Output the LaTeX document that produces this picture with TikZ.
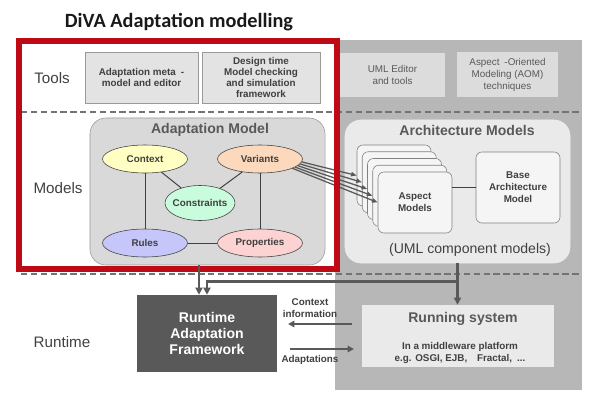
\documentclass[tikz,border=0pt]{standalone}
\usepackage{fontspec}
\setmainfont{Liberation Sans}
\newfontfamily\titlefont{Carlito}
\usetikzlibrary{shapes.geometric,arrows.meta}

\definecolor{divared}{HTML}{BE0A14}
\definecolor{backgray}{HTML}{B7B7B7}
\definecolor{dgray}{HTML}{595959}
\definecolor{tgray}{HTML}{404040}
\definecolor{boxgray}{HTML}{E3E3E3}
\definecolor{lightbox}{HTML}{DCDCDC}
\definecolor{modelfill}{HTML}{D9D9D9}
\definecolor{archfill}{HTML}{EAEAEA}
\definecolor{ctxfill}{HTML}{FFFFC4}
\definecolor{varfill}{HTML}{FCD9BC}
\definecolor{consfill}{HTML}{C9FBDD}
\definecolor{rulefill}{HTML}{C6C6FA}
\definecolor{propfill}{HTML}{FDD2D2}

\tikzset{
  rowlabel/.style={text=tgray, font=\fontsize{10.8}{13}\selectfont},
  toolbox/.style={draw=gray!80, fill=boxgray, align=center, text=tgray,
    font=\bfseries\fontsize{7}{8.5}\selectfont},
  othertool/.style={fill=lightbox, align=center, text=dgray,
    font=\fontsize{7}{8.5}\selectfont},
  modelarea/.style={rounded corners=0.4cm},
  areatitle/.style={text=dgray, font=\bfseries\fontsize{10}{12}\selectfont},
  concept/.style={ellipse, draw=tgray, inner sep=0pt, minimum width=2.125cm,
    minimum height=0.7cm, text=tgray, font=\bfseries\fontsize{7}{8.5}\selectfont},
  aspectbox/.style={draw=gray, fill=white!96!black, rounded corners=0.15cm,
    minimum width=1.85cm, minimum height=1.525cm},
  smalltext/.style={text=tgray, align=center, font=\bfseries\fontsize{7}{8.5}\selectfont},
  conceptlink/.style={draw=tgray, line width=0.7pt},
  fanarrow/.style={dgray, line width=0.9pt, -{Triangle[length=4pt,width=3pt]}},
  flowline/.style={dgray, line width=1.8pt, -{Triangle[length=5pt,width=5pt]}},
  infoarrow/.style={dgray, line width=1.5pt, -{Triangle[length=4.5pt,width=4.5pt]}},
  rowsep/.style={draw=gray!90!black, line width=1pt, dash pattern=on 4.5pt off 2.5pt}
}

\begin{document}
\begin{tikzpicture}[x=0.025cm, y=-0.025cm]
\useasboundingbox (0,0) rectangle (600,403);
% grey column
\fill[backgray] (335,40) rectangle (582,390);
\node[text=black!90, font=\titlefont\bfseries\fontsize{14.4}{17}\selectfont] (title) at (179,22) {DiVA Adaptation modelling};

% rows
\draw[rowsep] (21,112) -- (582,112);
\draw[rowsep] (21,274) -- (582,274);
\node[rowlabel] (tools) at (52,78) {Tools};
\node[rowlabel] (models) at (58,188) {Models};
\node[rowlabel] (runtime) at (62,342) {Runtime};

% tools
\node[toolbox, minimum width=2.825cm, minimum height=1.275cm] (metaed) at (141.5,77.5) {Adaptation meta\enspace -\\model and editor};
\node[toolbox, minimum width=2.95cm, minimum height=1.275cm, font=\bfseries\fontsize{7}{7.9}\selectfont] (checking) at (261,77.5) {Design time\\Model checking\\and simulation\\framework};
\node[othertool, minimum width=2.625cm, minimum height=1.1cm] (umled) at (392.5,75) {UML Editor\\and tools};
\node[othertool, minimum width=2.525cm, minimum height=1.125cm] (aom) at (507.5,74.5) {Aspect\enspace-Oriented\\Modeling (AOM)\\techniques};

% adaptation model
\node[modelarea, draw=gray!80, fill=modelfill, minimum width=5.875cm, minimum height=3.675cm] (adapt) at (207.5,191.5) {};
\node[areatitle] (adapttitle) at (210,130) {Adaptation Model};
\node[concept, fill=ctxfill] (context) at (145,159) {Context};
\node[concept, fill=varfill] (variants) at (260,159) {Variants};
\node[concept, fill=consfill, minimum width=1.75cm, minimum height=0.875cm] (constraints) at (200,203) {\makebox[0pt]{Constraints}};
\node[concept, fill=rulefill] (rules) at (145,243) {Rules};
\node[concept, fill=propfill] (properties) at (260,243) {Properties};
\draw[conceptlink] (context) -- (rules);
\draw[conceptlink] (rules) -- (properties);
\draw[conceptlink] (variants) -- (properties);
\draw[conceptlink] (context) -- (constraints);
\draw[conceptlink] (variants) -- (constraints);

% architecture models
\node[modelarea, draw=white!85!gray, fill=archfill, minimum width=5.625cm, minimum height=3.575cm] (arch) at (457.5,191.5) {};
\node[areatitle] (archtitle) at (467,130) {Architecture Models};
\foreach \i in {0,...,3}
  \node[aspectbox] (asp\i) at (394+5.25*\i, 175.5+6.75*\i) {};
\node[aspectbox, smalltext] (asp4) at (415,202.5) {Aspect\\Models};
\node[aspectbox, smalltext, minimum width=2.1cm, minimum height=1.775cm] (base) at (518,187.5) {Base\\Architecture\\Model};
\draw[conceptlink] (asp4.east |- base.west) -- (base.west);
\node[text=tgray, font=\fontsize{10}{12}\selectfont] (uml) at (470,250) {(UML component models)};

% variants to aspects
\foreach \i/\a in {0/-4,1/-7,2/-10,3/-13,4/-16}
  \draw[fanarrow] (variants.\a) -- (asp\i.west);

% the framed part
\draw[divared, line width=3.6pt] (19,41) rectangle (337,269);

% runtime
\node[fill=dgray, text=white, align=center, font=\bfseries\fontsize{10}{11.5}\selectfont, minimum width=3.5cm, minimum height=1.925cm] (raf) at (207,333.5) {Runtime\\Adaptation\\Framework};
\node[fill=archfill, minimum width=4.8cm, minimum height=1.55cm] (running) at (458,336) {};
\node[areatitle] (runtitle) at (463,319) {Running system};
\node[smalltext] (platform) at (460,353) {In a middleware platform\\e.g. OSGI, EJB,\quad Fractal,\enspace ...};

\coordinate (in1) at ([xshift=-0.2cm]raf.north);
\coordinate (bend) at ([yshift=-0.45cm]arch.south);
\draw[flowline] (in1 |- adapt.south) -- (in1);
\draw[flowline] (arch.south) -- (bend) -| (raf.north);
\draw[flowline] (bend) -- (bend |- running.north);

\coordinate (ctxstart) at (352,324);
\coordinate (ctxend) at (288,324);
\coordinate (adpstart) at (290,349);
\coordinate (adpend) at (354,349);
\draw[infoarrow] (ctxstart) -- (ctxend);
\draw[infoarrow] (adpstart) -- (adpend);
\node[smalltext] (ctxlabel) at (310,308) {Context\\information};
\node[smalltext] (adplabel) at (310,360) {Adaptations};
\end{tikzpicture}
\end{document}
